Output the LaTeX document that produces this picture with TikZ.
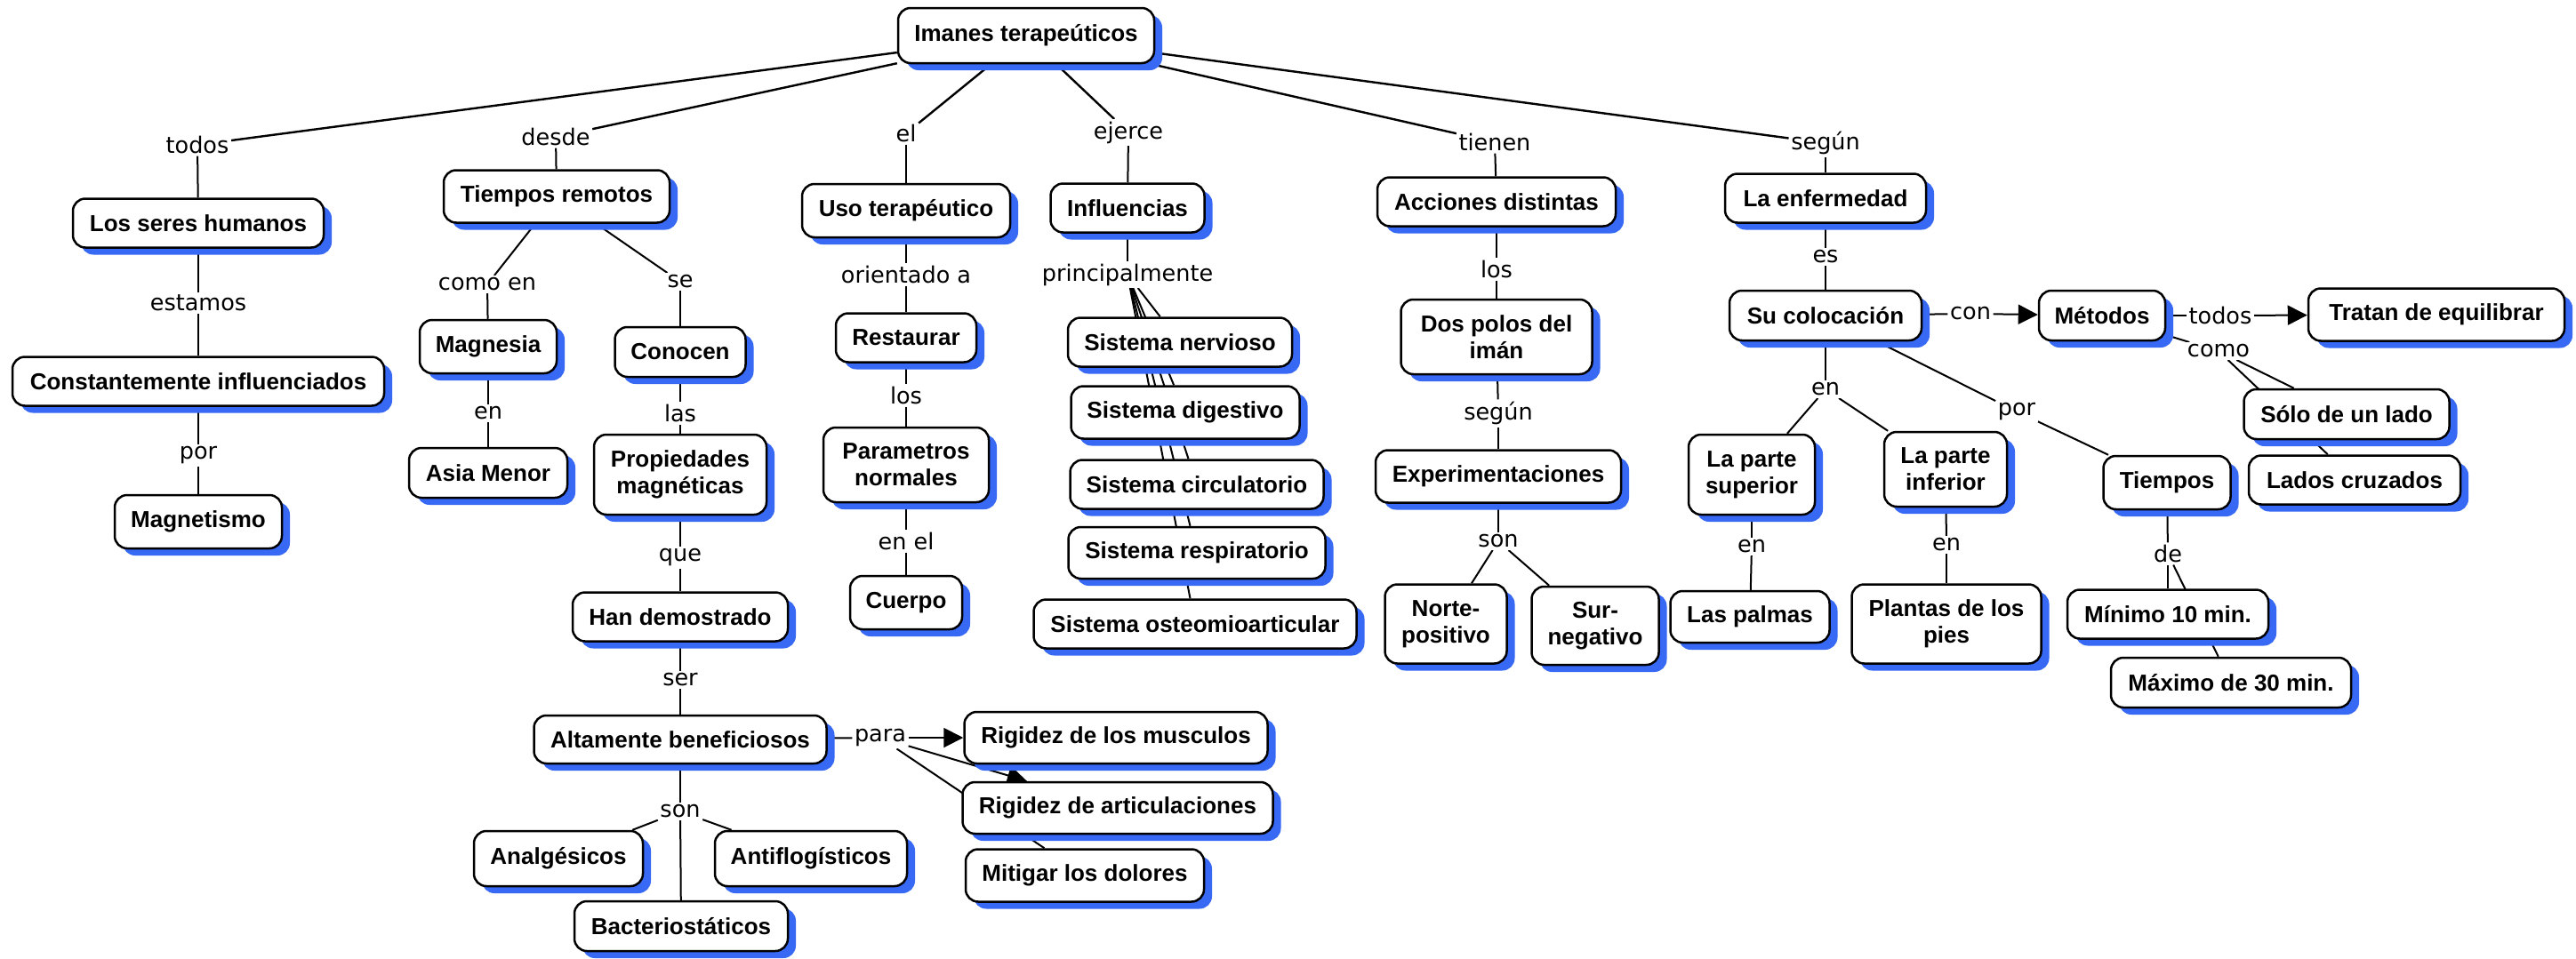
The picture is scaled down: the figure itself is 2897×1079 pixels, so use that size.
\documentclass[tikz,border=0pt]{standalone}
\usepackage{fontspec}
\newfontfamily\cfont{Liberation Sans}
\newfontfamily\lfont{DejaVu Sans}
\usetikzlibrary{shadows,arrows.meta,backgrounds}
\definecolor{shadowblue}{RGB}{55,105,245}
\newcommand\cn[6]{\node[concept, minimum width=#4pt, minimum height=#5pt] (#1) at (#2,#3) {#6};}
\newcommand\lb[4]{\node[lbl] (#1) at (#2,#3) {#4};}
\newcommand\cl[2]{\draw (#1) -- (#2);}
\newcommand\ca[2]{\draw[-{Triangle[length=22pt,width=22pt]}] (#1) -- (#2);}
\begin{document}
\begin{tikzpicture}[x=1pt,y=-1pt,
  concept/.style={draw=black, line width=2.5pt, fill=white, rounded corners=14pt,
    align=center, inner sep=0pt, font=\cfont\bfseries\fontsize{26}{30}\selectfont,
    general shadow={shadow xshift=9pt, shadow yshift=-8pt, fill=shadowblue, draw=none}},
  lbl/.style={fill=white, inner sep=2.5pt, font=\lfont\fontsize{25.5}{30}\selectfont},
  ]
\useasboundingbox (0,0) rectangle (2897,1079);
% concepts
\cn{imanes}{1154}{40}{288}{62}{Imanes terapeúticos}
\cn{seres}{223}{251}{282}{55}{Los seres humanos}
\cn{tiempos}{626}{221}{254}{59}{Tiempos remotos}
\cn{uso}{1019}{237}{234}{60}{Uso terapéutico}
\cn{influencias}{1268}{234}{173}{55}{Influencias}
\cn{acciones}{1683}{227}{268}{55}{Acciones distintas}
\cn{enfermedad}{2053}{223}{226}{55}{La enfermedad}
\cn{colocacion}{2053}{355}{216}{56}{Su colocación}
\cn{metodos}{2364}{355}{142}{56}{Métodos}
\cn{tratan}{2740}{354}{288}{59}{Tratan de equilibrar}
\cn{constante}{223}{429}{418}{55}{Constantemente influenciados}
\cn{magnetismo}{223}{587}{188}{60}{Magnetismo}
\cn{magnesia}{549}{390}{154}{60}{Magnesia}
\cn{asia}{549}{532}{178}{56}{Asia Menor}
\cn{conocen}{765}{396}{147}{56}{Conocen}
\cn{propiedades}{765}{534}{194}{90}{Propiedades\\magnéticas}
\cn{handem}{765}{694}{242}{55}{Han demostrado}
\cn{restaurar}{1019}{380}{158}{55}{Restaurar}
\cn{parametros}{1019}{523}{186}{84}{Parametros\\normales}
\cn{cuerpo}{1019}{678}{126}{60}{Cuerpo}
\cn{nervioso}{1327}{385}{252}{55}{Sistema nervioso}
\cn{digestivo}{1333}{464}{257}{59}{Sistema digestivo}
\cn{circulatorio}{1346}{545}{285}{55}{Sistema circulatorio}
\cn{respiratorio}{1346}{622}{289}{58}{Sistema respiratorio}
\cn{osteo}{1344}{702}{363}{55}{Sistema osteomioarticular}
\cn{dospolos}{1683}{379}{215}{84}{Dos polos del\\imán}
\cn{experim}{1685}{536}{276}{59}{Experimentaciones}
\cn{norte}{1626}{702}{137}{89}{Norte-\\positivo}
\cn{sur}{1794}{704}{143}{88}{Sur-\\negativo}
\cn{superior}{1970}{534}{142}{90}{La parte\\superior}
\cn{inferior}{2188}{528}{138}{84}{La parte\\inferior}
\cn{tiemposN}{2437}{543}{143}{60}{Tiempos}
\cn{solo}{2639}{466}{231}{56}{Sólo de un lado}
\cn{lados}{2648}{540}{238}{55}{Lados cruzados}
\cn{palmas}{1968}{694}{179}{58}{Las palmas}
\cn{plantas}{2189}{702}{213}{89}{Plantas de los\\pies}
\cn{minimo}{2438}{691}{226}{55}{Mínimo 10 min.}
\cn{maximo}{2509}{768}{270}{56}{Máximo de 30 min.}
\cn{altamente}{765}{832}{329}{54}{Altamente beneficiosos}
\cn{musculos}{1255}{830}{341}{58}{Rigidez de los musculos}
\cn{articul}{1257}{909}{349}{58}{Rigidez de articulaciones}
\cn{mitigar}{1220}{985}{268}{59}{Mitigar los dolores}
\cn{analg}{628}{966}{190}{62}{Analgésicos}
\cn{antiflog}{912}{966}{216}{62}{Antiflogísticos}
\cn{bacterio}{766}{1042}{240}{56}{Bacteriostáticos}
% linking phrases
\lb{todosA}{222}{163}{todos}
\lb{desde}{625}{154}{desde}
\lb{el}{1019}{150}{el}
\lb{ejerce}{1269}{149}{ejerce}
\lb{tienen}{1681}{160}{tienen}
\lb{segunA}{2053}{161}{según}
\lb{estamos}{223}{341}{estamos}
\lb{comoen}{548}{320}{como en}
\lb{se}{765}{317}{se}
\lb{orientado}{1019}{309}{orientado a}
\lb{principal}{1268}{309}{principalmente}
\lb{losA}{1683}{303}{los}
\lb{es}{2053}{289}{es}
\lb{con}{2216}{353}{con}
\lb{todosB}{2497}{355}{todos}
\lb{como}{2495}{395}{como}
\lb{porA}{223}{512}{por}
\lb{enA}{549}{465}{en}
\lb{las}{765}{465}{las}
\lb{que}{765}{627}{que}
\lb{ser}{765}{765}{ser}
\lb{losB}{1019}{445}{los}
\lb{enel}{1019}{609}{en el}
\lb{segunB}{1685}{465}{según}
\lb{sonA}{1685}{609}{son}
\lb{enB}{2053}{438}{en}
\lb{porB}{2268}{463}{por}
\lb{enC}{1970}{615}{en}
\lb{enD}{2189}{613}{en}
\lb{de}{2438}{623}{de}
\lb{para}{990}{830}{para}
\lb{sonB}{765}{913}{son}
% connectors
\begin{scope}[on background layer]
\fill[white] (0,0) rectangle (2897,1079);
\begin{scope}[line width=2.4pt]
\cl{imanes}{todosA}
\cl{imanes}{desde}
\cl{imanes}{el}
\cl{imanes}{ejerce}
\cl{imanes}{tienen}
\cl{imanes}{segunA}
\end{scope}
\begin{scope}[line width=2pt]
\cl{todosA}{seres}
\cl{desde}{tiempos}
\cl{el}{uso}
\cl{ejerce}{influencias}
\cl{tienen}{acciones}
\cl{segunA}{enfermedad}
\cl{seres}{estamos}
\cl{estamos}{constante}
\cl{constante}{porA}
\cl{porA}{magnetismo}
\cl{tiempos}{comoen}
\cl{comoen}{magnesia}
\cl{magnesia}{enA}
\cl{enA}{asia}
\cl{tiempos}{se}
\cl{se}{conocen}
\cl{conocen}{las}
\cl{las}{propiedades}
\cl{propiedades}{que}
\cl{que}{handem}
\cl{handem}{ser}
\cl{ser}{altamente}
\cl{altamente}{para}
\ca{para}{musculos}
\ca{para}{articul}
\cl{para}{mitigar}
\cl{altamente}{sonB}
\cl{sonB}{analg}
\cl{sonB}{antiflog}
\cl{sonB}{bacterio}
\cl{uso}{orientado}
\cl{orientado}{restaurar}
\cl{restaurar}{losB}
\cl{losB}{parametros}
\cl{parametros}{enel}
\cl{enel}{cuerpo}
\cl{influencias}{principal}
\cl{principal}{nervioso}
\cl{principal}{digestivo}
\cl{principal}{circulatorio}
\cl{principal}{respiratorio}
\cl{principal}{osteo}
\cl{acciones}{losA}
\cl{losA}{dospolos}
\cl{dospolos}{segunB}
\cl{segunB}{experim}
\cl{experim}{sonA}
\cl{sonA}{norte}
\cl{sonA}{sur}
\cl{enfermedad}{es}
\cl{es}{colocacion}
\cl{colocacion}{con}
\ca{con}{metodos}
\cl{metodos}{todosB}
\ca{todosB}{tratan}
\cl{metodos}{como}
\cl{como}{solo}
\cl{como}{lados}
\cl{colocacion}{enB}
\cl{enB}{superior}
\cl{enB}{inferior}
\cl{colocacion}{porB}
\cl{porB}{tiemposN}
\cl{tiemposN}{de}
\cl{de}{minimo}
\cl{de}{maximo}
\cl{superior}{enC}
\cl{enC}{palmas}
\cl{inferior}{enD}
\cl{enD}{plantas}
\end{scope}
\end{scope}
\end{tikzpicture}
\end{document}
